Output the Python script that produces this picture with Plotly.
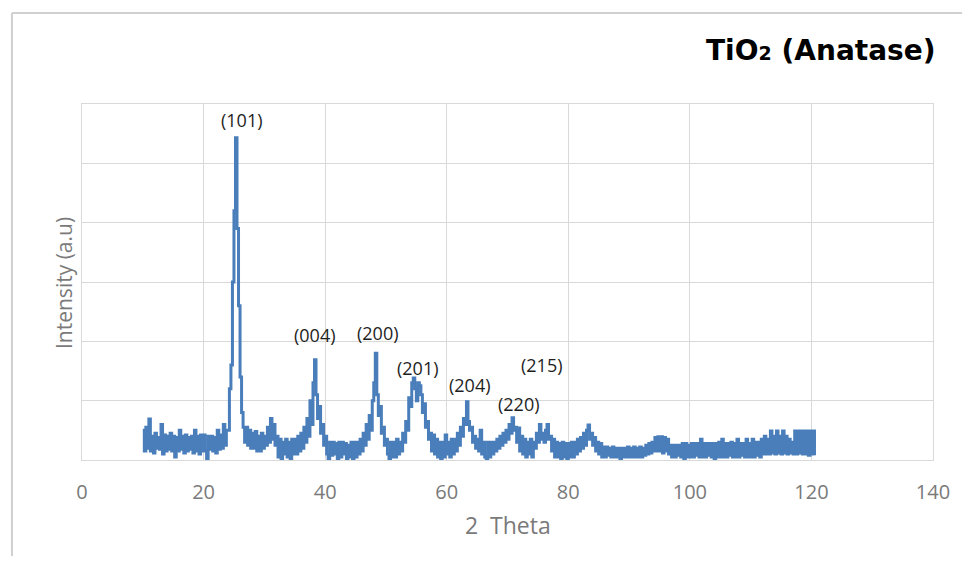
import plotly.graph_objects as go

# XRD pattern of TiO2 (anatase): 2-theta from 10.00 to 120.50 deg in 0.25 deg steps
theta_start = 10.0
theta_step = 0.25
intensity = [
    # 10.00 - 14.75
    0.50, 0.15, 0.55, 0.20, 0.69, 0.15, 0.40, 0.12, 0.45, 0.20,
    0.38, 0.18, 0.60, 0.10, 0.42, 0.15, 0.40, 0.18, 0.45, 0.15,
    # 15.00 - 19.75
    0.40, 0.05, 0.38, 0.15, 0.50, 0.18, 0.40, 0.12, 0.42, 0.15,
    0.38, 0.18, 0.40, 0.12, 0.50, 0.15, 0.40, 0.10, 0.42, 0.15,
    # 20.00 - 24.75
    0.42, 0.15, 0.02, 0.40, 0.18, 0.40, 0.15, 0.38, 0.12, 0.50,
    0.18, 0.42, 0.20, 0.60, 0.25, 0.50, 0.50, 1.20, 1.60, 3.00,
    # 25.00 - 29.75
    4.20, 5.43, 3.90, 2.60, 1.40, 0.80, 0.55, 0.30, 0.55, 0.25,
    0.50, 0.20, 0.45, 0.20, 0.48, 0.15, 0.40, 0.15, 0.45, 0.20,
    # 30.00 - 34.75
    0.40, 0.25, 0.55, 0.30, 0.70, 0.35, 0.60, 0.25, 0.40, 0.05,
    0.35, 0.00, 0.30, 0.10, 0.35, 0.05, 0.30, 0.00, 0.35, 0.10,
    # 35.00 - 39.75
    0.35, 0.10, 0.40, 0.15, 0.45, 0.20, 0.55, 0.30, 0.70, 0.40,
    1.00, 0.60, 1.30, 1.69, 1.10, 0.70, 0.90, 0.45, 0.60, 0.25,
    # 40.00 - 44.75
    0.40, 0.10, 0.00, 0.30, 0.08, 0.30, 0.10, 0.28, 0.00, 0.30,
    0.05, 0.30, 0.10, 0.28, 0.00, 0.25, 0.05, 0.30, 0.00, 0.30,
    # 45.00 - 49.75
    0.05, 0.30, 0.10, 0.35, 0.15, 0.45, 0.25, 0.60, 0.35, 0.75,
    0.50, 1.00, 1.30, 1.80, 1.10, 0.75, 0.90, 0.45, 0.55, 0.25,
    # 50.00 - 54.75
    0.35, 0.10, 0.00, 0.30, 0.05, 0.30, 0.05, 0.35, 0.10, 0.30,
    0.15, 0.45, 0.30, 0.65, 0.50, 1.05, 0.90, 1.30, 1.38, 1.20,
    # 55.00 - 59.75
    1.00, 1.30, 1.25, 1.10, 0.80, 0.95, 0.55, 0.65, 0.35, 0.45,
    0.15, 0.42, 0.10, 0.35, 0.05, 0.30, 0.00, 0.30, 0.05, 0.42,
    # 60.00 - 64.75
    0.10, 0.30, 0.05, 0.35, 0.10, 0.35, 0.15, 0.45, 0.25, 0.55,
    0.40, 0.70, 0.60, 0.98, 0.65, 0.50, 0.55, 0.30, 0.40, 0.20,
    # 65.00 - 69.75
    0.35, 0.15, 0.50, 0.10, 0.30, 0.05, 0.00, 0.30, 0.05, 0.30,
    0.10, 0.30, 0.15, 0.35, 0.20, 0.40, 0.25, 0.45, 0.30, 0.50,
    # 70.00 - 74.75
    0.35, 0.60, 0.45, 0.71, 0.50, 0.55, 0.30, 0.54, 0.15, 0.40,
    0.10, 0.35, 0.05, 0.30, 0.10, 0.35, 0.05, 0.30, 0.20, 0.45,
    # 75.00 - 79.75
    0.30, 0.60, 0.35, 0.45, 0.30, 0.50, 0.60, 0.35, 0.40, 0.15,
    0.35, 0.05, 0.30, 0.05, 0.28, 0.00, 0.30, 0.05, 0.28, 0.00,
    # 80.00 - 84.75
    0.28, 0.05, 0.30, 0.05, 0.30, 0.10, 0.35, 0.15, 0.38, 0.20,
    0.45, 0.25, 0.50, 0.59, 0.35, 0.45, 0.25, 0.38, 0.15, 0.30,
    # 85.00 - 89.75
    0.10, 0.28, 0.05, 0.22, 0.05, 0.22, 0.08, 0.20, 0.05, 0.22,
    0.05, 0.20, 0.05, 0.20, 0.00, 0.20, 0.05, 0.20, 0.05, 0.22,
    # 90.00 - 94.75
    0.05, 0.20, 0.05, 0.22, 0.05, 0.20, 0.05, 0.22, 0.05, 0.20,
    0.08, 0.25, 0.10, 0.28, 0.12, 0.30, 0.15, 0.38, 0.15, 0.39,
    # 95.00 - 99.75
    0.15, 0.39, 0.12, 0.38, 0.15, 0.35, 0.10, 0.25, 0.05, 0.25,
    0.05, 0.25, 0.08, 0.25, 0.05, 0.28, 0.00, 0.28, 0.05, 0.25,
    # 100.00 - 104.75
    0.05, 0.28, 0.05, 0.28, 0.08, 0.28, 0.05, 0.35, 0.05, 0.28,
    0.05, 0.28, 0.08, 0.28, 0.05, 0.28, 0.00, 0.28, 0.05, 0.30,
    # 105.00 - 109.75
    0.05, 0.35, 0.05, 0.28, 0.05, 0.28, 0.08, 0.30, 0.05, 0.28,
    0.05, 0.35, 0.05, 0.28, 0.08, 0.28, 0.05, 0.35, 0.05, 0.28,
    # 110.00 - 114.75
    0.05, 0.35, 0.05, 0.30, 0.08, 0.30, 0.05, 0.35, 0.10, 0.40,
    0.10, 0.35, 0.10, 0.49, 0.12, 0.40, 0.10, 0.49, 0.12, 0.40,
    # 115.00 - 119.75
    0.10, 0.49, 0.12, 0.40, 0.10, 0.35, 0.12, 0.30, 0.10, 0.49,
    0.10, 0.49, 0.12, 0.49, 0.10, 0.49, 0.10, 0.49, 0.08, 0.49,
    # 120.00 - 120.50
    0.10, 0.49, 0.08,
]

# Miller-index labels and their positions (2-theta, intensity)
peak_labels = ["(101)", "(004)", "(200)", "(201)", "(204)", "(220)", "(215)"]
label_x = [26.3, 38.3, 48.7, 55.3, 63.8, 71.9, 75.7]
label_y = [5.73, 2.11, 2.14, 1.55, 1.26, 0.94, 1.60]

x_ticks = [0, 20, 40, 60, 80, 100, 120, 140]

GRID = "#d9d9d9"
TXT = "#7a7a7a"

fig = go.Figure()
fig.add_trace(go.Scatter(
    x0=theta_start, dx=theta_step, y=intensity,
    mode="lines", line=dict(color="#4a7ebb", width=3, shape="hv"),
    hoverinfo="skip", showlegend=False,
))

for t, lx, ly in zip(peak_labels, label_x, label_y):
    fig.add_annotation(x=lx, y=ly, text=t, showarrow=False,
                       font=dict(family="Open Sans", size=18, color="#1e1e1e"),
                       xanchor="center", yanchor="middle")

# title
fig.add_annotation(xref="paper", yref="paper", x=1.006, y=1.149,
                   text="TiO<span style='font-size:19px'>2</span> (Anatase)",
                   showarrow=False, xanchor="right", yanchor="middle",
                   font=dict(family="DejaVu Sans", size=28, color="#000000", weight="bold"))
# axis titles
fig.add_annotation(xref="paper", yref="paper", x=0.5006, y=-0.1826, text="2  Theta",
                   showarrow=False, xanchor="center", yanchor="middle",
                   font=dict(family="Open Sans", size=23, color=TXT))
fig.add_annotation(xref="paper", yref="paper", x=-0.0212, y=0.497, text="Intensity (a.u)",
                   showarrow=False, xanchor="center", yanchor="middle", textangle=-90,
                   font=dict(family="Open Sans", size=21, color=TXT))

# outer chart-area border (left and top edges visible)
fig.add_shape(type="line", xref="paper", yref="paper", x0=-0.0823, x1=-0.0823,
              y0=1.2556, y1=-0.35, line=dict(color="#d0d0d0", width=2))
fig.add_shape(type="line", xref="paper", yref="paper", x0=-0.0823, x1=1.1,
              y0=1.2556, y1=1.2556, line=dict(color="#d0d0d0", width=2))

fig.update_layout(
    width=954, height=548,
    margin=dict(l=74, r=29, t=96, b=96),
    paper_bgcolor="white", plot_bgcolor="white",
    xaxis=dict(range=[0, 140], tickvals=x_ticks, showgrid=True, gridcolor=GRID,
               gridwidth=1, zeroline=False, showline=True, mirror=True,
               linecolor=GRID, linewidth=1, ticks="", ticklabelstandoff=14,
               tickfont=dict(family="Open Sans", size=20, color=TXT)),
    yaxis=dict(range=[0, 6], dtick=1, showgrid=True, gridcolor=GRID, gridwidth=1,
               zeroline=False, showline=True, mirror=True, linecolor=GRID,
               linewidth=1, showticklabels=False, ticks=""),
)

fig.write_html("out.html")
